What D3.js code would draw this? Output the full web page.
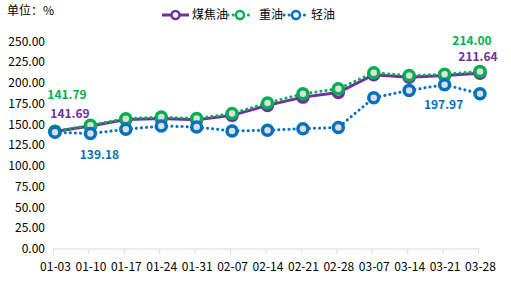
<!DOCTYPE html>
<html>
<head>
<meta charset="utf-8">
<script src="https://cdn.jsdelivr.net/npm/d3@7"></script>
<style>
  body { margin: 0; background: #fff; }
  svg text { font-family: "Microsoft YaHei", "Noto Sans CJK SC", "DejaVu Sans", sans-serif; }
</style>
</head>
<body>
<div id="chart"></div>
<script>
var dates = ["01-03", "01-10", "01-17", "01-24", "01-31", "02-07", "02-14",
             "02-21", "02-28", "03-07", "03-14", "03-21", "03-28"];

// 煤焦油
var coalTar = [141.69, 148.2, 156.0, 157.2, 155.8, 161.0, 173.0, 183.0, 188.5, 210.0, 207.0, 209.0, 211.64];
// 重油
var heavyOil = [141.79, 149.2, 157.0, 159.0, 157.2, 163.2, 176.0, 187.0, 193.0, 212.4, 209.0, 210.5, 214.00];
// 轻油
var lightOil = [140.6, 139.18, 144.2, 148.2, 147.0, 142.2, 143.0, 145.0, 146.3, 182.3, 191.1, 197.97, 187.1];

var yTicks = [0, 25, 50, 75, 100, 125, 150, 175, 200, 225, 250];

var series = [
    { name: "煤焦油", values: coalTar, color: "#7030a0", dash: null },
    { name: "重油", values: heavyOil, color: "#00b050", dash: "0.1,5" },
    { name: "轻油", values: lightOil, color: "#0070c0", dash: "0.1,5" }
];

// value labels: series index, point index, offset
var labels = [
    { s: 1, i: 0, dx: 12, dy: -37 },
    { s: 0, i: 0, dx: 15, dy: -18 },
    { s: 2, i: 1, dx: 9, dy: 21 },
    { s: 1, i: 12, dx: -8, dy: -31 },
    { s: 0, i: 12, dx: -2, dy: -17 },
    { s: 2, i: 11, dx: -1, dy: 20 }
];

var width = 511, height = 284;

var svg = d3.select("#chart").append("svg")
    .attr("width", width)
    .attr("height", height);

var x = d3.scalePoint()
    .domain(dates)
    .range([55, 480]);

var y = d3.scaleLinear()
    .domain([0, 250])
    .range([249, 41.5]);

// unit label
svg.append("text")
    .attr("x", 7)
    .attr("y", 15)
    .attr("font-size", 12)
    .attr("fill", "#000")
    .text("单位：%");

// y axis labels
svg.append("g")
    .selectAll("text")
    .data(yTicks)
    .enter()
    .append("text")
    .attr("x", 45)
    .attr("y", function (d) { return y(d); })
    .attr("dy", "0.35em")
    .attr("text-anchor", "end")
    .attr("font-size", 12)
    .attr("fill", "#000")
    .text(function (d) { return d.toFixed(2); });

// x axis
var xAxis = svg.append("g")
    .attr("transform", "translate(-2,249)")
    .call(d3.axisBottom(x).tickSize(5).tickPadding(8));
xAxis.select(".domain").attr("stroke", "#d9d9d9").attr("d", "M" + (x(dates[0])) + ",0H" + (x(dates[dates.length - 1]) + 2));
xAxis.selectAll(".tick line").attr("stroke", "#d9d9d9");
xAxis.selectAll(".tick text")
    .attr("font-size", 12)
    .attr("fill", "#000")
    .attr("transform", "translate(2,0)")
    .style("font-family", "\"Microsoft YaHei\", \"Noto Sans CJK SC\", \"DejaVu Sans\", sans-serif");

var line = d3.line()
    .x(function (d, i) { return x(dates[i]); })
    .y(function (d) { return y(d); });

series.forEach(function (s) {
    var g = svg.append("g");
    g.append("path")
        .datum(s.values)
        .attr("fill", "none")
        .attr("stroke", s.color)
        .attr("stroke-width", 3)
        .attr("stroke-linecap", s.dash ? "round" : "butt")
        .attr("stroke-dasharray", s.dash)
        .attr("d", line);
    g.selectAll("circle")
        .data(s.values)
        .enter()
        .append("circle")
        .attr("cx", function (d, i) { return x(dates[i]); })
        .attr("cy", function (d) { return y(d); })
        .attr("r", 5)
        .attr("fill", "#dedede")
        .attr("stroke", s.color)
        .attr("stroke-width", 3.5);
});

// value labels
svg.append("g")
    .selectAll("text")
    .data(labels)
    .enter()
    .append("text")
    .attr("x", function (d) { return x(dates[d.i]) + d.dx; })
    .attr("y", function (d) { return y(series[d.s].values[d.i]) + d.dy; })
    .attr("dy", "0.35em")
    .attr("text-anchor", "middle")
    .attr("font-size", 12)
    .attr("font-weight", "bold")
    .attr("fill", function (d) { return series[d.s].color; })
    .text(function (d) { return series[d.s].values[d.i].toFixed(2); });

// legend
var legendItems = [
    { s: 0, x0: 162, tx: 192 },
    { s: 1, x0: 228, tx: 259 },
    { s: 2, x0: 284, tx: 311 }
];
var lg = svg.append("g");
legendItems.forEach(function (it) {
    var s = series[it.s];
    var ly = 15;
    var x1 = it.s === 0 ? it.x0 + 27 : it.x0 + 24;
    lg.append("line")
        .attr("x1", it.x0).attr("x2", x1)
        .attr("y1", ly).attr("y2", ly)
        .attr("stroke", s.color)
        .attr("stroke-width", 3)
        .attr("stroke-linecap", s.dash ? "round" : "butt")
        .attr("stroke-dasharray", s.dash);
    lg.append("circle")
        .attr("cx", (it.x0 + x1) / 2)
        .attr("cy", ly)
        .attr("r", 4)
        .attr("fill", "#fff")
        .attr("stroke", s.color)
        .attr("stroke-width", 2.5);
    lg.append("text")
        .attr("x", it.tx)
        .attr("y", ly)
        .attr("dy", "0.35em")
        .attr("font-size", 12)
        .attr("fill", "#000")
        .text(s.name);
});
</script>
</body>
</html>
